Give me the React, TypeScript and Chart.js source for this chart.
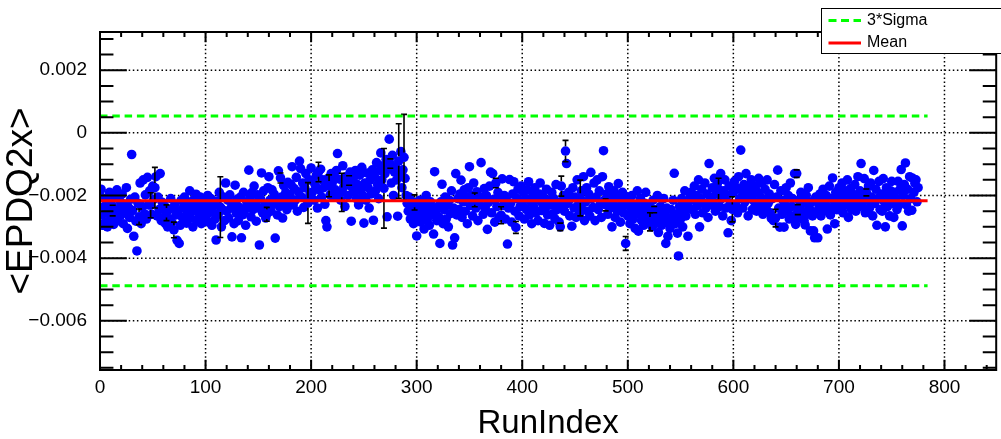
import React, { useEffect, useRef } from "react";
import { Chart, registerables } from "chart.js";

Chart.register(...registerables);

// ---------------- DATA ----------------
// <EPDQ2x> per run, in units of 1e-5 (run index = position in the array)
const RUN_VALUES_E5: number[] = [
  -200, -180, -262, -295, -235, -285, -210, -300, -255, -190, -275, -230, -248, -292, -205, -265, -182, -280, -240, -218,
  -262, -195, -290, -228, -250, -175, -305, -238, -270, -212, -69, -248, -330, -205, -282, -377, -225, -268, -160, -290,
  -235, -150, -258, -198, -275, -142, -230, -185, -231, -260, -170, -212, -175, -140, -265, -205, -245, -130, -280, -222,
  -270, -232, -290, -255, -300, -245, -275, -210, -285, -240, -310, -228, -262, -343, -250, -353, -295, -215, -270, -238,
  -205, -265, -288, -220, -250, -185, -272, -235, -300, -212, -248, -196, -280, -230, -262, -205, -290, -245, -218, -268,
  -225, -262, -200, -285, -240, -210, -295, -252, -230, -275, -342, -218, -260, -190, -237, -300, -245, -205, -280, -160,
  -250, -215, -272, -198, -240, -332, -226, -290, -167, -255, -212, -280, -238, -205, -335, -262, -190, -248, -295, -220,
  -232, -119, -205, -268, -190, -245, -170, -225, -282, -198, -240, -358, -210, -128, -255, -185, -230, -272, -260, -175,
  -140, -215, -250, -182, -228, -196, -336, -210, -262, -121, -235, -144, -205, -272, -168, -220, -190, -245, -158, -232,
  -200, -165, -108, -230, -178, -215, -142, -250, -188, -90, -114, -205, -160, -238, -175, -130, -212, -224, -150, -192,
  -112, -190, -155, -215, -168, -135, -240, -125, -182, -116, -205, -150, -175, -228, -280, -300, -145, -169, -198, -130,
  -160, -205, -138, -182, -120, -66, -190, -148, -215, -190, -105, -172, -235, -140, -158, -200, -152, -125, -282, -175,
  -145, -190, -120, -210, -165, -230, -135, -182, -110, -200, -288, -160, -215, -128, -175, -240, -150, -195, -118, -279,
  -140, -185, -95, -165, -210, -120, -64, -150, -105, -177, -130, -85, -268, -115, -20, -98, -160, -72, -200, -125,
  -110, -150, -266, -90, -135, -60, -175, -118, -78, -145, -200, -225, -250, -205, -275, -232, -260, -290, -222, -248,
  -329, -240, -270, -215, -285, -250, -230, -307, -265, -200, -278, -245, -295, -220, -262, -240, -323, -124, -255, -280,
  -235, -268, -353, -220, -164, -290, -245, -205, -275, -230, -300, -215, -258, -185, -358, -240, -335, -130, -262, -210,
  -245, -195, -151, -270, -220, -182, -250, -205, -290, -175, -108, -232, -200, -265, -160, -214, -240, -188, -280, -215,
  -230, -95, -205, -260, -178, -240, -200, -308, -222, -170, -125, -255, -130, -212, -285, -160, -235, -190, -270, -205,
  -263, -147, -232, -200, -275, -215, -355, -240, -149, -225, -285, -195, -156, -250, -302, -210, -180, -265, -235, -170,
  -228, -190, -275, -210, -245, -182, -156, -262, -220, -290, -200, -238, -175, -255, -215, -280, -195, -160, -248, -225,
  -205, -289, -240, -180, -262, -215, -295, -230, -190, -258, -210, -275, -165, -245, -222, -285, -300, -170, -235, -200,
  -250, -58, -98, -225, -190, -265, -210, -298, -175, -240, -205, -270, -150, -230, -260, -208, -185, -245, -140, -280,
  -220, -175, -250, -195, -265, -126, -210, -238, -160, -280, -205, -150, -245, -185, -225, -270, -140, -57, -215, -230,
  -195, -260, -172, -240, -210, -300, -228, -185, -270, -205, -250, -162, -235, -285, -215, -190, -255, -230, -353, -205,
  -265, -220, -290, -240, -200, -275, -250, -305, -230, -185, -314, -260, -210, -280, -245, -295, -225, -190, -268, -240,
  -230, -284, -262, -300, -215, -245, -290, -270, -200, -318, -255, -235, -295, -275, -210, -260, -353, -240, -330, -285,
  -305, -245, -270, -215, -129, -290, -260, -320, -393, -235, -275, -210, -300, -250, -185, -265, -228, -330, -240, -205,
  -190, -245, -215, -170, -260, -200, -232, -150, -300, -210, -180, -255, -225, -160, -240, -195, -270, -98, -205, -230,
  -175, -220, -145, -250, -195, -160, -180, -235, -130, -210, -265, -185, -150, -240, -200, -319, -170, -225, -280, -244,
  -190, -155, -230, -175, -255, -140, -210, -55, -185, -240, -165, -220, -130, -200, -265, -175, -210, -150, -245, -195,
  -220, -170, -250, -190, -145, -235, -205, -160, -260, -215, -180, -240, -150, -225, -195, -255, -273, -210, -280, -165,
  -272, -205, -119, -240, -301, -185, -260, -215, -301, -230, -175, -250, -200, -275, -160, -235, -210, -265, -130, -292,
  -130, -245, -215, -270, -190, -250, -225, -280, -294, -200, -260, -175, -240, -313, -220, -265, -313, -335, -205, -250,
  -335, -230, -195, -265, -215, -180, -250, -225, -200, -307, -240, -170, -262, -210, -144, -235, -290, -190, -245, -215,
  -175, -240, -200, -160, -255, -215, -185, -230, -150, -270, -205, -178, -245, -195, -225, -165, -250, -210, -140, -235,
  -185, -98, -230, -200, -146, -255, -190, -215, -170, -240, -160, -205, -265, -120, -225, -180, -295, -210, -155, -245,
  -195, -250, -146, -220, -300, -175, -235, -200, -265, -185, -155, -225, -270, -190, -210, -245, -155, -230, -180, -117,
  -297, -200, -165, -96, -230, -180, -250, -140, -210, -247, -145, -190, -161, -150, -220, -175,
];

// visible error bars: [run index, half error in 1e-5]
const ERROR_RUNS: number[] = [12, 37, 48, 52, 63, 70, 114, 158, 171, 197, 207, 217, 229, 236, 269, 275, 283, 288, 298, 355, 375, 380, 394, 436, 437, 441, 455, 479, 498, 521, 525, 586, 599, 640, 660, 661, 726];
const ERROR_SIZES_E5: number[] = [17, 25, 40, 65, 25, 25, 97, 22, 16, 65, 31, 35, 61, 15, 127, 15, 119, 137, 24, 22, 15, 27, 19, 12, 32, 34, 57, 19, 22, 29, 10, 35, 40, 28, 12, 16, 11];

const VALUE_UNIT = 1e-5;
const MEAN = -0.00217;
const THREE_SIGMA = 0.00271;
const LINE_START = 0;
const LINE_END = 784;

const X_MIN = 0;
const X_MAX = 849;
const Y_MIN = -0.00757;
const Y_MAX = 0.00322;
const X_MAJOR = 100;
const X_MINOR = 20;
const Y_MAJOR = 0.002;
const Y_MINOR = 0.0005;

const X_TITLE = "RunIndex";
const Y_TITLE = "<EPDQ2x>";
const LEGEND_LABELS = ["3*Sigma", "Mean"];

// ---------------- STYLE ----------------
const FONT = "'Liberation Sans', Arial, Helvetica, sans-serif";
const BLUE = "#0000ff";
const RED = "#ff0000";
const GREEN = "#00ff00";
const MARKER_R = 4.8;

function fmtY(v: number): string {
  if (Math.abs(v) < 1e-9) return "0";
  return (v < 0 ? "\u2212" : "") + Math.abs(v).toFixed(3);
}

const rootPlugin = {
  id: "rootStyle",
  beforeDatasetsDraw(chart: any) {
    const { ctx, chartArea: a, scales } = chart;
    const x = scales.x;
    const y = scales.y;
    ctx.save();
    ctx.strokeStyle = "#000";
    ctx.lineWidth = 1.5;
    ctx.setLineDash([1.5, 2.6]);
    for (const t of x.ticks) {
      const px = x.getPixelForValue(t.value);
      if (px <= a.left + 1 || px >= a.right - 1) continue;
      ctx.beginPath();
      ctx.moveTo(px, a.bottom);
      ctx.lineTo(px, a.top);
      ctx.stroke();
    }
    for (const t of y.ticks) {
      const py = y.getPixelForValue(t.value);
      if (py <= a.top + 1 || py >= a.bottom - 1) continue;
      ctx.beginPath();
      ctx.moveTo(a.left, py);
      ctx.lineTo(a.right, py);
      ctx.stroke();
    }
    ctx.restore();
  },
  afterDatasetDraw(chart: any, args: any) {
    if (args.index !== 3) return;
    const { ctx, chartArea: a, scales } = chart;
    const x = scales.x;
    const y = scales.y;
    ctx.save();
    ctx.beginPath();
    ctx.rect(a.left, a.top, a.right - a.left, a.bottom - a.top);
    ctx.clip();
    ctx.strokeStyle = "#000";
    ctx.lineWidth = 1.6;
    ctx.setLineDash([]);
    ERROR_RUNS.forEach((run, k) => {
      const v = RUN_VALUES_E5[run] * VALUE_UNIT;
      const e = ERROR_SIZES_E5[k] * VALUE_UNIT;
      const px = x.getPixelForValue(run);
      const pc = y.getPixelForValue(v);
      const pt = y.getPixelForValue(v + e);
      const pb = y.getPixelForValue(v - e);
      ctx.beginPath();
      if (pc - pt > MARKER_R) {
        ctx.moveTo(px, pc - MARKER_R);
        ctx.lineTo(px, pt);
      }
      if (pb - pc > MARKER_R) {
        ctx.moveTo(px, pc + MARKER_R);
        ctx.lineTo(px, pb);
      }
      ctx.moveTo(px - 3, pt);
      ctx.lineTo(px + 3, pt);
      ctx.moveTo(px - 3, pb);
      ctx.lineTo(px + 3, pb);
      ctx.stroke();
    });
    ctx.restore();
  },
  afterDraw(chart: any) {
    const { ctx, chartArea: a, scales } = chart;
    const x = scales.x;
    const y = scales.y;
    ctx.save();
    ctx.setLineDash([]);
    ctx.strokeStyle = "#000";
    // ticks
    ctx.lineWidth = 2;
    const xH = 0.03 * (a.bottom - a.top);
    for (let k = Math.ceil(X_MIN / X_MINOR); k * X_MINOR <= X_MAX; k++) {
      const v = k * X_MINOR;
      const major = Math.abs(v / X_MAJOR - Math.round(v / X_MAJOR)) < 1e-6;
      const len = major ? xH : xH / 2;
      const px = x.getPixelForValue(v);
      ctx.beginPath();
      ctx.moveTo(px, a.bottom);
      ctx.lineTo(px, a.bottom - len);
      ctx.moveTo(px, a.top);
      ctx.lineTo(px, a.top + len);
      ctx.stroke();
    }
    const yW = 0.03 * (a.right - a.left);
    for (let k = Math.ceil(Y_MIN / Y_MINOR - 1e-6); k * Y_MINOR <= Y_MAX + 1e-9; k++) {
      const v = k * Y_MINOR;
      const major = Math.abs(v / Y_MAJOR - Math.round(v / Y_MAJOR)) < 1e-6;
      const len = major ? yW : yW / 2;
      const py = y.getPixelForValue(v);
      ctx.beginPath();
      ctx.moveTo(a.left, py);
      ctx.lineTo(a.left + len, py);
      ctx.moveTo(a.right, py);
      ctx.lineTo(a.right - len, py);
      ctx.stroke();
    }
    // frame
    ctx.lineWidth = 2;
    ctx.strokeRect(a.left, a.top, a.right - a.left, a.bottom - a.top);

    // legend
    const lx = 821.5;
    const ly = 8.5;
    ctx.fillStyle = "#fff";
    ctx.fillRect(lx, ly, 190, 45);
    ctx.lineWidth = 1;
    ctx.strokeStyle = "#000";
    ctx.strokeRect(lx, ly, 190, 45);
    const rows = [
      { label: LEGEND_LABELS[0], color: GREEN, dash: [8, 4.5], y: 20.5 },
      { label: LEGEND_LABELS[1], color: RED, dash: [], y: 43 },
    ];
    ctx.font = `16px ${FONT}`;
    ctx.textBaseline = "middle";
    ctx.textAlign = "left";
    for (const r of rows) {
      ctx.strokeStyle = r.color;
      ctx.lineWidth = 3;
      ctx.setLineDash(r.dash);
      ctx.beginPath();
      ctx.moveTo(828.5, r.y);
      ctx.lineTo(861, r.y);
      ctx.stroke();
      ctx.setLineDash([]);
      ctx.fillStyle = "#000";
      ctx.fillText(r.label, 867, r.y);
    }
    ctx.restore();
  },
};

export default function App() {
  const ref = useRef<HTMLCanvasElement>(null);
  useEffect(() => {
    const canvas = ref.current;
    if (!canvas) return;
    const points = RUN_VALUES_E5.map((v, i) => ({ x: i, y: v * VALUE_UNIT }));
    const meanLine = [
      { x: LINE_START, y: MEAN },
      { x: LINE_END, y: MEAN },
    ];
    const upLine = [
      { x: LINE_START, y: MEAN + THREE_SIGMA },
      { x: LINE_END, y: MEAN + THREE_SIGMA },
    ];
    const lowLine = [
      { x: LINE_START, y: MEAN - THREE_SIGMA },
      { x: LINE_END, y: MEAN - THREE_SIGMA },
    ];
    const chart = new Chart(canvas, {
      type: "scatter",
      data: {
        datasets: [
          { label: LEGEND_LABELS[1], data: meanLine, showLine: true, borderColor: RED, borderWidth: 3, pointRadius: 0, fill: false },
          { label: LEGEND_LABELS[0], data: upLine, showLine: true, borderColor: GREEN, borderWidth: 3, borderDash: [7.5, 4.8], pointRadius: 0, fill: false },
          { label: LEGEND_LABELS[0], data: lowLine, showLine: true, borderColor: GREEN, borderWidth: 3, borderDash: [7.5, 4.8], pointRadius: 0, fill: false },
          { label: "runs", data: points, pointRadius: MARKER_R, pointHoverRadius: MARKER_R, pointBackgroundColor: BLUE, backgroundColor: BLUE, pointBorderWidth: 0, borderWidth: 0 },
        ],
      } as any,
      options: {
        responsive: false,
        animation: false,
        devicePixelRatio: 1,
        events: [],
        layout: { padding: { top: 32, right: 1, left: 0, bottom: 0 } },
        plugins: { legend: { display: false }, tooltip: { enabled: false } },
        scales: {
          x: {
            type: "linear",
            min: X_MIN,
            max: X_MAX,
            grid: { display: false, drawTicks: false, tickLength: 0 },
            border: { display: false },
            ticks: {
              stepSize: X_MAJOR,
              includeBounds: false,
              padding: 6,
              color: "#000",
              font: { family: FONT, size: 19 },
              maxRotation: 0,
              autoSkip: false,
              callback: (v: any) => String(Math.round(Number(v))),
            },
            title: { display: true, text: X_TITLE, color: "#000", font: { family: FONT, size: 33 }, padding: { top: 0, bottom: -5 } },
            afterFit: (s: any) => {
              s.height = 69;
            },
          },
          y: {
            type: "linear",
            min: Y_MIN,
            max: Y_MAX,
            grid: { display: false, drawTicks: false, tickLength: 0 },
            border: { display: false },
            ticks: {
              stepSize: Y_MAJOR,
              includeBounds: false,
              padding: 13,
              color: "#000",
              font: { family: FONT, size: 19 },
              autoSkip: false,
              callback: (v: any) => fmtY(Number(v)),
            },
            title: { display: true, text: Y_TITLE, color: "#000", font: { family: FONT, size: 37 }, padding: { top: 0, bottom: 0 } },
            afterFit: (s: any) => {
              s.width = 100;
            },
          },
        },
      } as any,
      plugins: [rootPlugin as any],
    });
    return () => chart.destroy();
  }, []);
  return (
    <div style={{ position: "absolute", left: 0, top: 0, width: 1001, height: 439, background: "#fff" }}>
      <canvas ref={ref} width={1001} height={439} style={{ display: "block", width: 1001, height: 439 }} />
    </div>
  );
}
